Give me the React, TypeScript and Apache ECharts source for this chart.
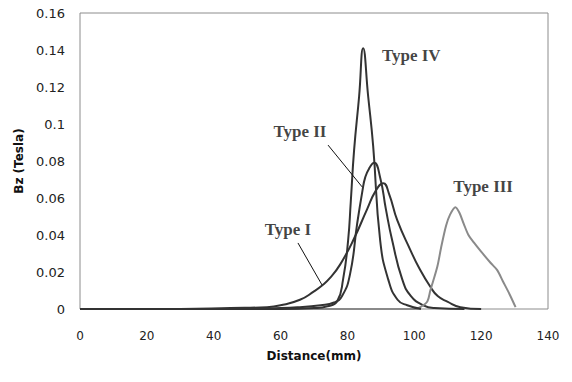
import React, { useEffect, useRef } from "react";
import * as echarts from "echarts";

// Distance (mm) vs Bz (Tesla)
const typeI: [number, number][] = [
  [0, 0], [30, 0], [45, 0.0005], [55.9, 0.001], [60, 0.002], [65.8, 0.005], [70, 0.0095],
  [72.5, 0.0128], [74.8, 0.0168], [77.8, 0.024], [81.7, 0.037], [85.9, 0.054], [88.5, 0.064],
  [90.7, 0.068], [92.5, 0.062], [94.9, 0.048], [98.8, 0.032], [101.5, 0.022], [104.8, 0.012],
  [107, 0.007], [109.9, 0.004], [113.8, 0.001], [120, 0],
];
const typeII: [number, number][] = [
  [0, 0], [50, 0], [65, 0.001], [72, 0.002], [76, 0.0035], [78.4, 0.007], [80.8, 0.019],
  [82.9, 0.046], [84.5, 0.064], [85.3, 0.071], [86.5, 0.076], [88, 0.079], [89.8, 0.071],
  [91.5, 0.054], [93.4, 0.037], [96.4, 0.016], [99, 0.007], [102.7, 0.002], [106, 0.0005], [115, 0],
];
const typeIII: [number, number][] = [
  [0, 0], [100, 0], [101.8, 0.001], [103.9, 0.004], [104.8, 0.01], [106.9, 0.023], [108, 0.033],
  [109.5, 0.045], [110.7, 0.051], [112.3, 0.055], [113.5, 0.052], [114.8, 0.046], [116.2, 0.04],
  [117.8, 0.036], [120, 0.031], [122.8, 0.025], [124.8, 0.021], [126.5, 0.015], [128.5, 0.008],
  [130.3, 0.001],
];
const typeIV: [number, number][] = [
  [0, 0], [60, 0], [70, 0.0005], [74, 0.0015], [76.9, 0.004], [78.7, 0.016], [80.2, 0.037],
  [81, 0.058], [82, 0.086], [83.5, 0.115], [84.7, 0.141], [86.2, 0.115], [87.7, 0.088],
  [89.8, 0.037], [92.2, 0.016], [95, 0.005], [97.9, 0.002], [102, 0],
];

const seriesNames = ["Type I", "Type II", "Type III", "Type IV"];

// annotation labels (data coordinates)
const labelPoints: [number, number, string][] = [
  [99.1, 0.137, "Type IV"],
  [65.8, 0.096, "Type II"],
  [62.2, 0.043, "Type I"],
  [120.6, 0.066, "Type III"],
];
const leaderLines: [number, number][][] = [
  [[74.2, 0.0886], [84.4, 0.066]],
  [[65.2, 0.0357], [72.4, 0.013]],
];

export default function App() {
  const ref = useRef<HTMLDivElement>(null);
  useEffect(() => {
    const chart = echarts.init(ref.current!, null, { renderer: "svg" });
    const curve = (name: string, data: [number, number][], color: string, smooth: number) => ({
      name,
      type: "line",
      data,
      smooth,
      showSymbol: false,
      symbol: "none",
      lineStyle: { color, width: 2 },
      z: 3,
    });
    chart.setOption({
      animation: false,
      backgroundColor: "#fff",
      grid: {
        left: 80,
        right: 24,
        top: 13,
        bottom: 73,
        show: true,
        borderColor: "#8c8c8c",
        borderWidth: 1,
      },
      xAxis: {
        type: "value",
        min: 0,
        max: 140,
        interval: 20,
        name: "Distance(mm)",
        nameLocation: "middle",
        nameGap: 41,
        nameTextStyle: { fontFamily: "DejaVu Sans", fontWeight: "bold", fontSize: 12, color: "#111" },
        axisLine: { show: false },
        axisTick: { show: false },
        splitLine: { show: false },
        axisLabel: { margin: 21, fontFamily: "DejaVu Sans", fontSize: 12, color: "#222" },
      },
      yAxis: {
        type: "value",
        min: 0,
        max: 0.16,
        interval: 0.02,
        name: "Bz (Tesla)",
        nameLocation: "middle",
        nameGap: 55,
        nameTextStyle: { fontFamily: "DejaVu Sans", fontWeight: "bold", fontSize: 12, color: "#111" },
        axisLine: { show: false },
        axisTick: { show: false },
        splitLine: { show: false },
        axisLabel: { margin: 15, fontFamily: "DejaVu Sans", fontSize: 13, color: "#222" },
      },
      series: [
        curve(seriesNames[0], typeI, "#333", 0.5),
        curve(seriesNames[1], typeII, "#333", 0.5),
        curve(seriesNames[2], typeIII, "#8a8a8a", 0.3),
        curve(seriesNames[3], typeIV, "#333", 0.5),
        {
          type: "lines",
          coordinateSystem: "cartesian2d",
          data: leaderLines.map((c) => ({ coords: c })),
          lineStyle: { color: "#111", width: 1, opacity: 1 },
          symbol: "none",
          z: 4,
        },
        {
          type: "scatter",
          data: labelPoints,
          symbolSize: 1,
          itemStyle: { color: "rgba(0,0,0,0)" },
          label: {
            show: true,
            position: "inside",
            formatter: (p: any) => p.value[2],
            fontFamily: "Liberation Serif",
            fontWeight: "bold",
            fontSize: 17,
            color: "#111",
          },
          z: 5,
        },
      ],
    });
    return () => chart.dispose();
  }, []);
  return <div ref={ref} style={{ position: "fixed", left: 0, top: 0, width: 572, height: 382 }} />;
}
